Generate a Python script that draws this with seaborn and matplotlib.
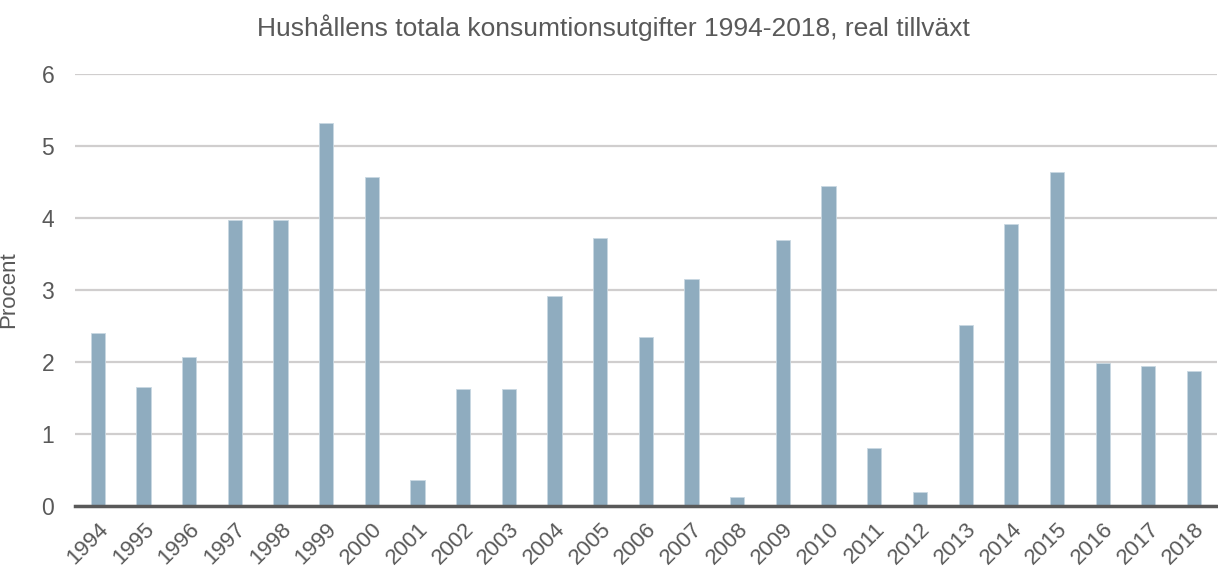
import matplotlib
matplotlib.use("Agg")
import matplotlib.pyplot as plt
import pandas as pd
import seaborn as sns

years = [str(y) for y in range(1994, 2019)]
growth = [2.40, 1.65, 2.07, 3.97, 3.97, 5.32, 4.57, 0.36, 1.63, 1.63,
          2.92, 3.72, 2.35, 3.15, 0.12, 3.70, 4.44, 0.81, 0.19, 2.52,
          3.92, 4.64, 1.98, 1.94, 1.87]
title = "Hushållens totala konsumtionsutgifter 1994-2018, real tillväxt"
ylabel = "Procent"

BAR = "#8FACBF"
GRID = "#D0CECE"
TXT = "#595959"

sns.set_theme(style="white")
plt.rcParams["font.family"] = ["Liberation Sans", "DejaVu Sans"]

df = pd.DataFrame({"year": years, "growth": growth})

fig = plt.figure(figsize=(12.18, 5.72), dpi=100)
ax = fig.add_axes([75 / 1218, 1 - 506 / 572, 1 - 75 / 1218 - 0.001, (506 - 74) / 572])

sns.barplot(data=df, x="year", y="growth", color=BAR, width=0.31,
            saturation=1, edgecolor="#C9D8E2", linewidth=0.6, ax=ax, zorder=2)

ax.set_ylim(0, 6)
ax.set_xlim(-0.5, len(years) - 0.5)
ax.set_yticks(range(0, 7))
ax.yaxis.grid(True, color=GRID, lw=1.6, zorder=0)
ax.set_axisbelow(True)
for s in ["top", "right", "left"]:
    ax.spines[s].set_visible(False)
ax.spines["bottom"].set_color(TXT)
ax.spines["bottom"].set_linewidth(2.5)
ax.spines["bottom"].set_zorder(3)

ax.tick_params(axis="y", length=0, labelsize=16.5, colors=TXT, pad=15)
ax.tick_params(axis="x", length=0, labelsize=16, colors=TXT, pad=9)
plt.setp(ax.get_xticklabels(), rotation=45, ha="right", rotation_mode="anchor")

ax.set_xlabel("")
ax.set_ylabel(ylabel, fontsize=16, color=TXT)
ax.yaxis.set_label_coords(-0.049, 0.5)

fig.text(0.504, 0.951, title, ha="center", va="center", fontsize=19, color=TXT)

fig.savefig("out.png", dpi=100)
